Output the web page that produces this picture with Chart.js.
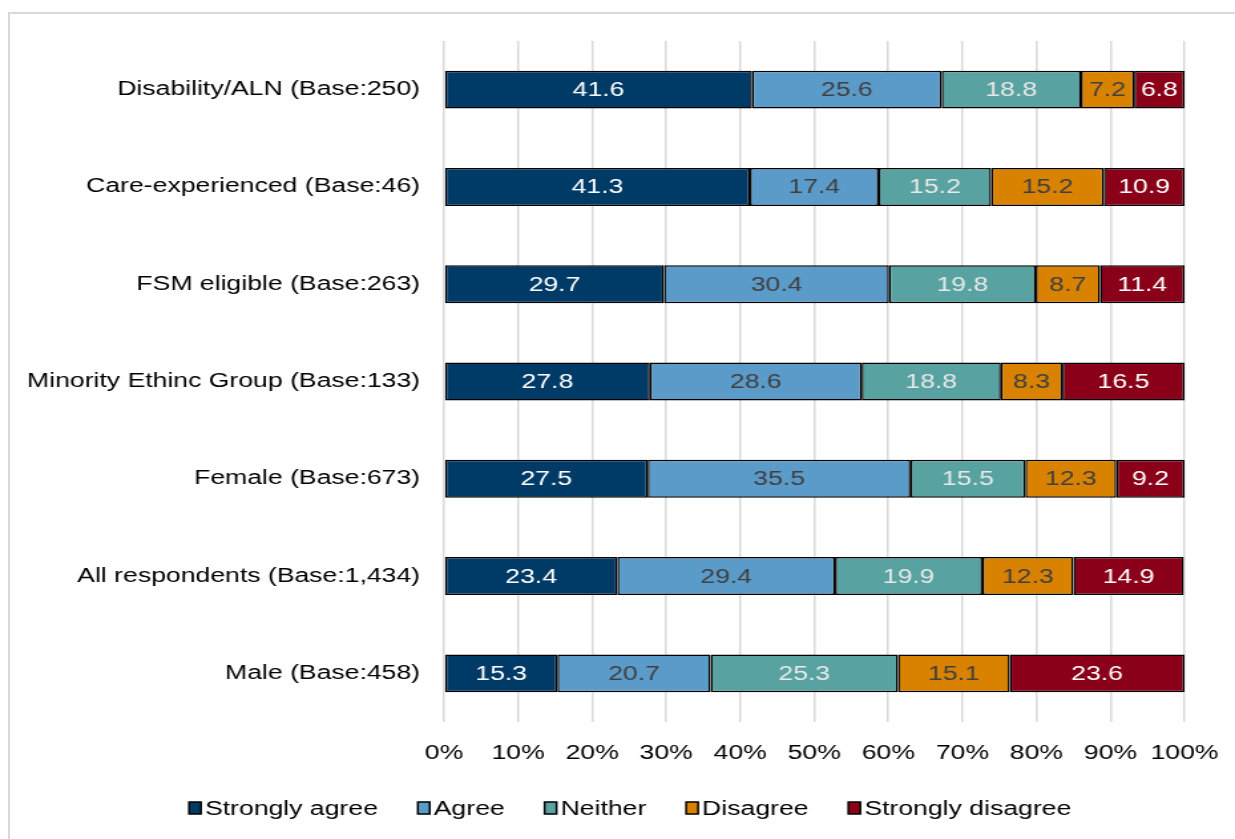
<!DOCTYPE html>
<html>
<head>
<meta charset="utf-8">
<script src="https://cdn.jsdelivr.net/npm/chart.js@4.4.1/dist/chart.umd.min.js"></script>
<style>
    html, body { margin: 0; padding: 0; background: #fff; }
    #wrap { position: relative; width: 1235px; height: 839px; overflow: hidden; }
    #frame { position: absolute; left: 8px; top: 12px; right: -10px; bottom: -10px;
             border-top: 2px solid #d9d9d9; border-left: 2px solid #d9d9d9; }
    /* the chart is laid out narrow and then widened to the page */
    #chart { position: absolute; left: 0; top: 0; transform: scaleX(1.3294); transform-origin: 0 0; }
</style>
</head>
<body>
<div id="wrap">
    <div id="frame"></div>
    <canvas id="chart" width="929" height="839"></canvas>
</div>
<script>
const groups = [
    'Disability/ALN (Base:250)',
    'Care-experienced (Base:46)',
    'FSM eligible (Base:263)',
    'Minority Ethinc Group (Base:133)',
    'Female (Base:673)',
    'All respondents (Base:1,434)',
    'Male (Base:458)'
];
const responses = ['Strongly agree', 'Agree', 'Neither', 'Disagree', 'Strongly disagree'];
const stronglyAgree    = [41.6, 41.3, 29.7, 27.8, 27.5, 23.4, 15.3];
const agree            = [25.6, 17.4, 30.4, 28.6, 35.5, 29.4, 20.7];
const neither          = [18.8, 15.2, 19.8, 18.8, 15.5, 19.9, 25.3];
const disagree         = [7.2, 15.2, 8.7, 8.3, 12.3, 12.3, 15.1];
const stronglyDisagree = [6.8, 10.9, 11.4, 16.5, 9.2, 14.9, 23.6];
const xTicks = [0, 10, 20, 30, 40, 50, 60, 70, 80, 90, 100];

const fills = ['#003b68', '#5b9bc9', '#58a3a1', '#d98200', '#8a0018'];
const labelColors = ['#ffffff', '#404040', '#e8e8e8', '#404040', '#ffffff'];
const seriesValues = [stronglyAgree, agree, neither, disagree, stronglyDisagree];

const FONT = 'Liberation Sans, Arial, sans-serif';

// writes each segment's value in the middle of its bar
const segmentLabels = {
    id: 'segmentLabels',
    afterDatasetsDraw(chart) {
        const ctx = chart.ctx;
        ctx.save();
        ctx.font = '20px ' + FONT;
        ctx.textAlign = 'center';
        ctx.textBaseline = 'middle';
        chart.data.datasets.forEach((ds, i) => {
            chart.getDatasetMeta(i).data.forEach((bar, j) => {
                const p = bar.getProps(['x', 'y', 'base'], true);
                ctx.fillStyle = labelColors[i];
                ctx.fillText(ds.data[j].toFixed(1), (p.x + p.base) / 2, p.y + 1);
            });
        });
        ctx.restore();
    }
};

// compact legend row under the axis: small box, tight gap, then the label
const bottomLegend = {
    id: 'bottomLegend',
    afterDraw(chart) {
        const ctx = chart.ctx;
        const box = 9, boxH = 12, gap = 3, spacing = 30;
        const y = 808;
        ctx.save();
        ctx.font = '20px ' + FONT;
        ctx.textBaseline = 'middle';
        const widths = chart.data.datasets.map(ds => box + gap + ctx.measureText(ds.label).width);
        const total = widths.reduce((a, b) => a + b, 0) + spacing * (widths.length - 1);
        let x = 474 - total / 2;
        chart.data.datasets.forEach((ds, i) => {
            ctx.fillStyle = ds.backgroundColor;
            ctx.fillRect(x, y - boxH / 2, box, boxH);
            ctx.strokeStyle = '#000000';
            ctx.lineWidth = 1.5;
            ctx.strokeRect(x, y - boxH / 2, box, boxH);
            ctx.fillStyle = '#000000';
            ctx.fillText(ds.label, x + box + gap, y + 1);
            x += widths[i] + spacing;
        });
        ctx.restore();
    }
};

new Chart(document.getElementById('chart'), {
    type: 'bar',
    plugins: [segmentLabels, bottomLegend],
    data: {
        labels: groups,
        datasets: responses.map((name, i) => ({
            label: name,
            data: seriesValues[i],
            backgroundColor: fills[i],
            borderColor: '#000000',
            borderWidth: 1.5,
            borderSkipped: false,
            categoryPercentage: 1,
            barPercentage: 0.39
        }))
    },
    options: {
        indexAxis: 'y',
        responsive: false,
        animation: false,
        layout: {
            padding: { top: 41, right: 38, bottom: 55, left: 0 }
        },
        scales: {
            x: {
                stacked: true,
                min: 0,
                max: 100,
                afterBuildTicks: (scale) => { scale.ticks = xTicks.map(v => ({ value: v })); },
                // the layout padding already leaves room for the end labels
                afterFit: (scale) => { scale.paddingLeft = 0; scale.paddingRight = 0; },
                grid: { color: '#d9d9d9', lineWidth: 1.5, drawTicks: false },
                border: { display: false },
                ticks: {
                    padding: 19,
                    maxRotation: 0,
                    color: '#000000',
                    font: { family: FONT, size: 20 },
                    callback: (v) => v + '%'
                }
            },
            y: {
                stacked: true,
                grid: { display: false, drawTicks: false },
                border: { display: false },
                afterFit: (scale) => { scale.width = 334; },
                ticks: {
                    padding: 18,
                    color: '#000000',
                    font: { family: FONT, size: 20 }
                }
            }
        },
        plugins: {
            legend: { display: false },
            tooltip: { enabled: false }
        }
    }
});
</script>
</body>
</html>
